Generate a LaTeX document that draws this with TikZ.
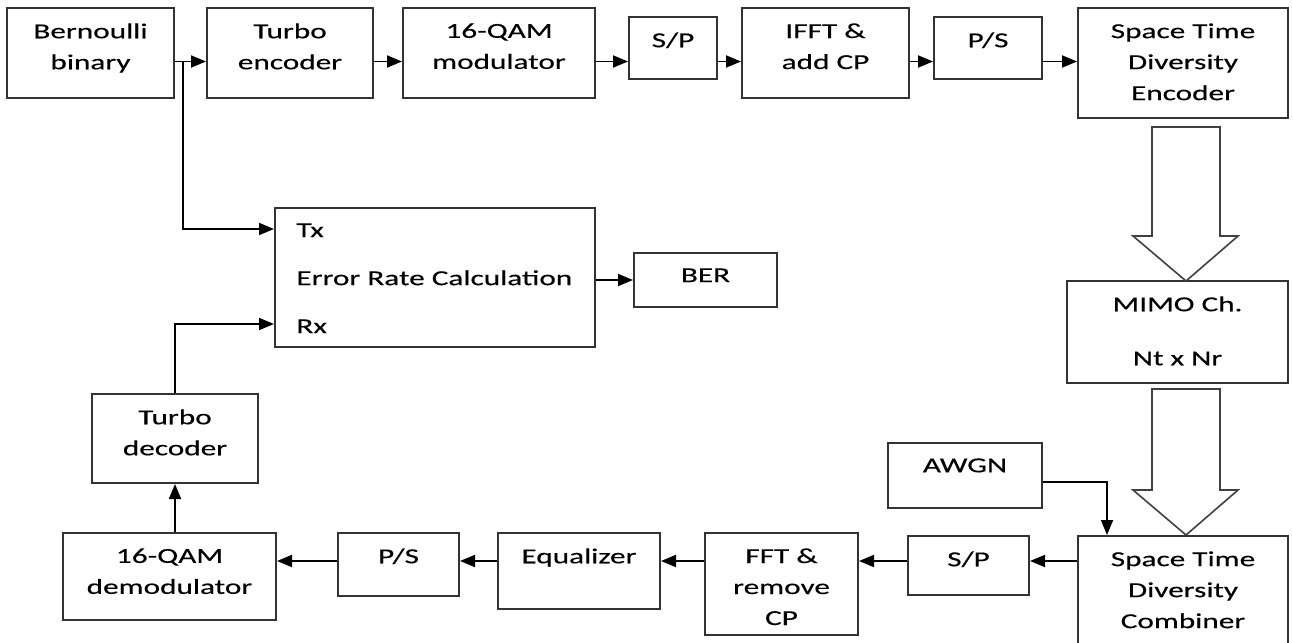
\documentclass[tikz,border=0pt]{standalone}
\usepackage{fontspec}
\setmainfont{Carlito}[FakeStretch=1.46, FakeBold=0.3]
\usetikzlibrary{arrows.meta,positioning}
\def\fatarrow(#1,#2,#3){\draw[hollow] ({#1-34},#2) -- ({#1+34},#2) -- ({#1+34},{#3-45}) -- ({#1+52},{#3-45}) -- (#1,#3) -- ({#1-53},{#3-45}) -- ({#1-34},{#3-45}) -- cycle;}

\tikzset{
	blk/.style={draw=black!80, line width=1pt, inner sep=0pt},
	lbl/.style={font=\fontsize{10.7}{15.5}\selectfont, align=center, inner sep=0pt, anchor=north, yshift=-8pt},
	wire/.style={line width=0.9pt, -{Triangle[length=7.5pt,width=6pt]}},
	hollow/.style={draw=black!75, line width=0.8pt},
}

\begin{document}
\begin{tikzpicture}[x=0.5pt, y=-0.5pt]
			%%%%% START %%%%%
			\useasboundingbox (0,0) rectangle (1293,642);
			
			\coordinate (toprow) at (0,61.5);
			\coordinate (botrow) at (0,561);
			
			% transmitter
			\node[blk, minimum width=83.5pt, minimum height=45pt, label={[lbl]north:Bernoulli\\binary}] (bern) at (90.5,53) {};
			\node[blk, minimum width=83pt, minimum height=45pt, label={[lbl]north:Turbo\\encoder}] (tenc) at (290,53) {};
			\node[blk, minimum width=96pt, minimum height=45pt, label={[lbl]north:16-QAM\\modulator}] (qmod) at (499,53) {};
			\node[blk, minimum width=44pt, minimum height=31pt, label={[lbl]north:S/P}] (sp1) at (673,48) {};
			\node[blk, minimum width=83.5pt, minimum height=45pt, label={[lbl]north:IFFT \&\\add CP}] (ifft) at (825.5,53) {};
			\node[blk, minimum width=54pt, minimum height=31pt, label={[lbl]north:P/S}] (ps1) at (988,48) {};
			\node[blk, minimum width=105pt, minimum height=55pt, label={[lbl]north:Space Time\\Diversity\\Encoder}] (stenc) at (1183,63) {};
			
			% channel
			\node[blk, minimum width=110.5pt, minimum height=51pt, label={[lbl]north:MIMO Ch.\\[11.5pt]Nt x Nr}] (mimo) at (1177.5,332) {};
			\node[blk, minimum width=77pt, minimum height=32.5pt, label={[lbl]north:AWGN}] (awgn) at (965,475.5) {};
			
			\fatarrow(1186,127,281)
			\fatarrow(1186,389,535)
			
			% receiver
			\node[blk, minimum width=105pt, minimum height=59.5pt, label={[lbl]north:Space Time\\Diversity\\Combiner}] (stcomb) at (1183,595.5) {};
			\node[blk, minimum width=60.5pt, minimum height=29.5pt, label={[lbl]north:S/P}] (sp2) at (968.5,565.5) {};
			\node[blk, minimum width=76.5pt, minimum height=51pt, label={[lbl]north:FFT \&\\remove\\CP}] (fft) at (781.5,584) {};
			\node[blk, minimum width=81pt, minimum height=38pt, label={[lbl]north:Equalizer}] (eq) at (579,571) {};
			\node[blk, minimum width=60.5pt, minimum height=31.5pt, label={[lbl]north:P/S}] (ps2) at (398.5,564.5) {};
			\node[blk, minimum width=106.5pt, minimum height=43.5pt, label={[lbl]north:16-QAM\\demodulator}] (qdem) at (169.5,576.5) {};
			\node[blk, minimum width=83pt, minimum height=44.5pt, label={[lbl]north:Turbo\\decoder}] (tdec) at (175,438.5) {};
			
			% error rate
			\node[blk, minimum width=160pt, minimum height=69.5pt, label={[lbl, anchor=north west, align=left, xshift=11pt]north west:Tx\\[8.5pt]Error Rate Calculation\\[8.5pt]Rx}] (err) at (435,277.5) {};
			\node[blk, minimum width=71.5pt, minimum height=27pt, label={[lbl]north:BER}] (ber) at (705.5,280) {};
			
			% top row
			\draw[wire] (bern.east |- toprow) -- (tenc.west |- toprow);
			\draw[wire] (tenc.east |- toprow) -- (qmod.west |- toprow);
			\draw[wire] (qmod.east |- toprow) -- (sp1.west |- toprow);
			\draw[wire] (sp1.east |- toprow) -- (ifft.west |- toprow);
			\draw[wire] (ifft.east |- toprow) -- (ps1.west |- toprow);
			\draw[wire] (ps1.east |- toprow) -- (stenc.west |- toprow);
			
			\coordinate (tap) at (183,61.5);
			\draw[wire] (tap) |- ([yshift=24.25pt]err.west);
			\draw[wire] (tdec.north) |- ([yshift=-23.25pt]err.west);
			\draw[wire] (err.east |- ber) -- (ber.west);
			
			% bottom row
			\draw[wire] ([yshift=-3.25pt]awgn.east) -| ([xshift=15pt]stcomb.north west);
			\draw[wire] (stcomb.west |- botrow) -- (sp2.east |- botrow);
			\draw[wire] (sp2.west |- botrow) -- (fft.east |- botrow);
			\draw[wire] (fft.west |- botrow) -- (eq.east |- botrow);
			\draw[wire] (eq.west |- botrow) -- (ps2.east |- botrow);
			\draw[wire] (ps2.west |- botrow) -- (qdem.east |- botrow);
			\draw[wire] (qdem.north -| tdec.south) -- (tdec.south);
			
			%%%%% END %%%%%
\end{tikzpicture}
\end{document}
